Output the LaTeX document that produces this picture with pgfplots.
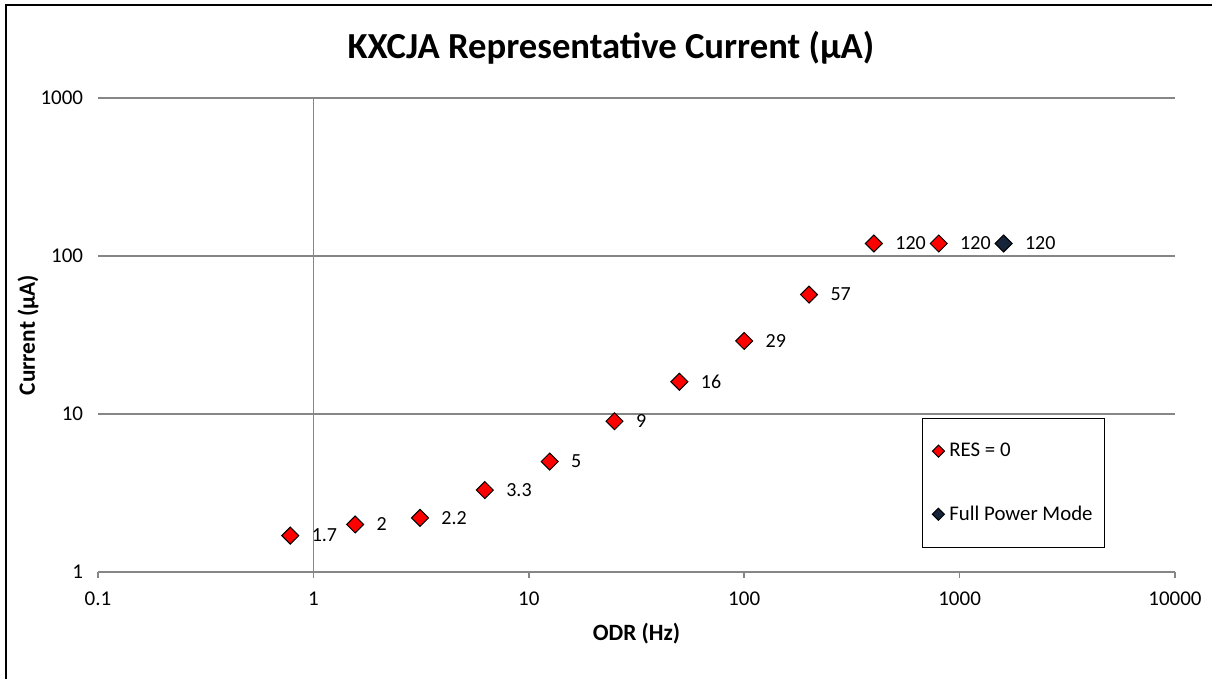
\documentclass[border=0pt]{standalone}
\usepackage{pgfplots}
\usepackage{pgfplotstable}
\pgfplotsset{compat=1.18}
\usepackage{fontspec}
\setmainfont{Carlito}
\definecolor{mkred}{RGB}{255,0,0}
\definecolor{mknavy}{RGB}{22,36,58}
\definecolor{gridgray}{RGB}{134,134,134}
\pgfplotstableread{
x y lab
0.78125 1.7 1.7
1.5625 2 2
3.125 2.2 2.2
6.25 3.3 3.3
12.5 5 5
25 9 9
50 16 16
100 29 29
200 57 57
400 120 120
800 120 120
}\resdata
\pgfplotstableread{
x y lab
1600 120 120
}\fpdata
\begin{document}
\begin{tikzpicture}
\useasboundingbox (0,0) rectangle (727.2pt,407.4pt);
\fill[white] (0,0) rectangle (727.2pt,407.4pt);
\draw[black, line width=1.2pt] (3.3pt,0) -- (3.3pt,404.4pt) -- (727.2pt,404.4pt);
\begin{axis}[
  at={(58.8pt,64.2pt)}, anchor=south west,
  scale only axis, width=646.2pt, height=284.4pt,
  xmode=log, ymode=log,
  xmin=0.1, xmax=10000, ymin=1, ymax=1000,
  xtick={0.1,1,10,100,1000,10000},
  xticklabels={0.1,1,10,100,1000,10000},
  ytick={1,10,100,1000},
  yticklabels={1,10,100,1000},
  /pgf/number format/assume math mode=true,
  minor tick length=0pt,
  axis x line*=bottom, axis y line*=left,
  x axis line style={gridgray, line width=0.9pt, -},
  y axis line style={draw=none, -},
  ytick style={draw=none},
  xtick style={gridgray, line width=0.9pt},
  tick align=outside, major tick length=3.6pt,
  ymajorgrids, grid style={gridgray, line width=0.9pt},
  extra x ticks={1}, extra x tick labels={},
  extra x tick style={grid=major, major tick length=0pt},
  ticklabel style={font=\fontsize{12.6pt}{15pt}\selectfont},
  xticklabel style={yshift=-5pt},
  yticklabel style={xshift=-1.8pt},
  title={\textbf{KXCJA Representative Current (µA)}},
  title style={font=\fontsize{22pt}{26pt}\selectfont, at={(0.4763,1.084)}, anchor=center},
  xlabel={\textbf{ODR (Hz)}},
  xlabel style={font=\fontsize{14pt}{16pt}\selectfont, at={(0.5,-0.13)}, anchor=center},
  ylabel={\textbf{Current (µA)}},
  ylabel style={font=\fontsize{14pt}{16pt}\selectfont, at={(-0.065,0.5)}, anchor=center, rotate=0},
  nodes near coords, point meta=explicit symbolic,
  nodes near coords style={font=\fontsize{12pt}{14pt}\selectfont, anchor=west, inner sep=0pt, xshift=12.6pt, text=black},
  legend style={at={(0.765,0.325)}, anchor=north west, draw=black, line width=0.6pt,
    inner xsep=6pt, inner ysep=13.8pt, row sep=26pt, column sep=2pt,
    font=\fontsize{12.5pt}{14pt}\selectfont, nodes={inner sep=1pt}},
  legend cell align=left,
  legend image code/.code={\draw[#1, mark size=2.55pt] plot coordinates {(0cm,0cm)};},
]
\addplot[only marks, mark=square*, mark size=3.6pt,
  mark options={rotate=45, draw=black, fill=mkred, line width=0.6pt}]
  table[x=x, y=y, meta=lab] {\resdata};
\addlegendentry{RES = 0}
\addplot[only marks, mark=square*, mark size=3.6pt,
  mark options={rotate=45, draw=black, fill=mknavy, line width=0.6pt}]
  table[x=x, y=y, meta=lab] {\fpdata};
\addlegendentry{Full Power Mode}
\end{axis}
\end{tikzpicture}
\end{document}
